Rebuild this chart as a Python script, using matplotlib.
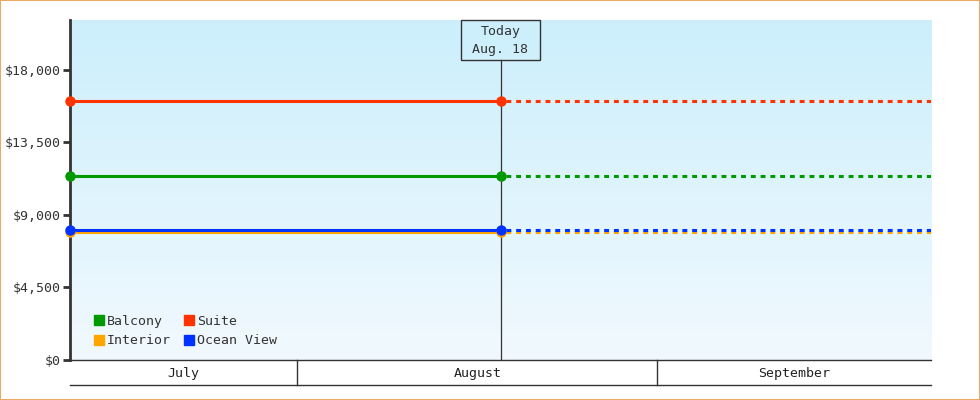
import numpy as np
import matplotlib.pyplot as plt
import matplotlib.dates as mdates
from matplotlib.patches import Rectangle
from datetime import datetime

plt.rcParams['font.family'] = 'DejaVu Sans Mono'
plt.rcParams['font.size'] = 9.5

# data
series = ["Balcony", "Interior", "Suite", "Ocean View"]
colors = ["#009900", "#FFA500", "#FF3300", "#0033FF"]
prices = [11420, 7960, 16080, 8050]
y_ticks = [0, 4500, 9000, 13500, 18000]
months = ["July", "August", "September"]
month_starts = [datetime(2013, 7, 1), datetime(2013, 8, 1), datetime(2013, 9, 1), datetime(2013, 10, 1)]

start = datetime(2013, 7, 12, 10)
today = datetime(2013, 8, 18, 12)
end = datetime(2013, 9, 24, 14)
today_label = ["Today", "Aug. 18"]

x0, xt, x1 = mdates.date2num([start, today, end])

fig = plt.figure(figsize=(9.8, 4), dpi=100)
ax = fig.add_axes([70 / 980, 40 / 400, 861 / 980, 340 / 400])

# gradient background
grad = np.linspace(0, 1, 256).reshape(-1, 1)
top = np.array([0.80, 0.937, 0.988])
bot = np.array([0.945, 0.976, 0.996])
img = top + (bot - top) * grad[:, :, None] * np.ones((1, 1, 3))
ax.imshow(img, extent=[0, 1, 0, 1], transform=ax.transAxes, aspect='auto', zorder=0)

ax.set_xlim(x0, x1)
ax.set_ylim(0, 21100)

for name, c, p in zip(series, colors, prices):
    ax.plot([x0, xt], [p, p], color=c, lw=2.2, solid_capstyle='butt', zorder=3)
    ax.plot([xt, x1], [p, p], color=c, lw=2.2, ls=(1.6, (1.6, 1.6)),
            dash_capstyle='butt', zorder=3)
    ax.plot([x0, xt], [p, p], 'o', color=c, ms=6.5, zorder=4, clip_on=False)

# today marker: box in axes coords, line below it
trans = ax.get_xaxis_transform()
box_h = 40 / 340
ax.plot([xt, xt], [0, 1 - box_h], transform=trans, color='#333333', lw=0.9, zorder=2)
bw = (x1 - x0) * 80 / 861
ax.add_patch(Rectangle((xt - bw / 2, 1 - box_h), bw, box_h, transform=trans,
                       fill=False, ec='#333333', lw=1, zorder=5, clip_on=False))
ax.text(xt, 1 - 12 / 340, today_label[0], transform=trans, ha='center', va='center',
        color='#333333', zorder=5)
ax.text(xt, 1 - 30 / 340, today_label[1], transform=trans, ha='center', va='center',
        color='#333333', zorder=5)

# axes styling
for s in ['top', 'right']:
    ax.spines[s].set_visible(False)
ax.spines['left'].set_color('#333333')
ax.spines['left'].set_linewidth(2)
ax.spines['bottom'].set_color('#333333')
ax.spines['bottom'].set_linewidth(1)
ax.set_yticks(y_ticks)
ax.set_yticklabels(["$" + format(v, ",") for v in y_ticks], color='#333333')
ax.tick_params(axis='y', length=5, width=2, color='#333333', pad=2)
ax.set_xticks([])

# month band below the plot
band = -25 / 340
ax.plot([x0, x1], [band, band], transform=trans, color='#333333', lw=1, clip_on=False)
for m in mdates.date2num(month_starts[1:3]):
    ax.plot([m, m], [0, band], transform=trans, color='#333333', lw=1, clip_on=False)
edges = mdates.date2num(month_starts)
for i, name in enumerate(months):
    a = max(edges[i], x0)
    b = min(edges[i + 1], x1)
    ax.text((a + b) / 2, band / 2 - 0.003, name, transform=trans, ha='center', va='center',
            color='#222222', clip_on=False)

# legend
handles = [plt.Line2D([], [], marker='s', ls='', color=c, ms=7.5) for c in colors]
ax.legend(handles, series, ncol=2, loc='lower left', bbox_to_anchor=(0.011, 0.002),
          frameon=False, handletextpad=0.0, columnspacing=0.75, labelspacing=0.5,
          handlelength=1.2, fontsize=9.5, labelcolor='#333333')

# outer border
fig.patches.append(Rectangle((0, 0), 1, 1, transform=fig.transFigure, fill=False,
                             ec='#EBA965', lw=1.5))

fig.savefig("out.png", dpi=100)
